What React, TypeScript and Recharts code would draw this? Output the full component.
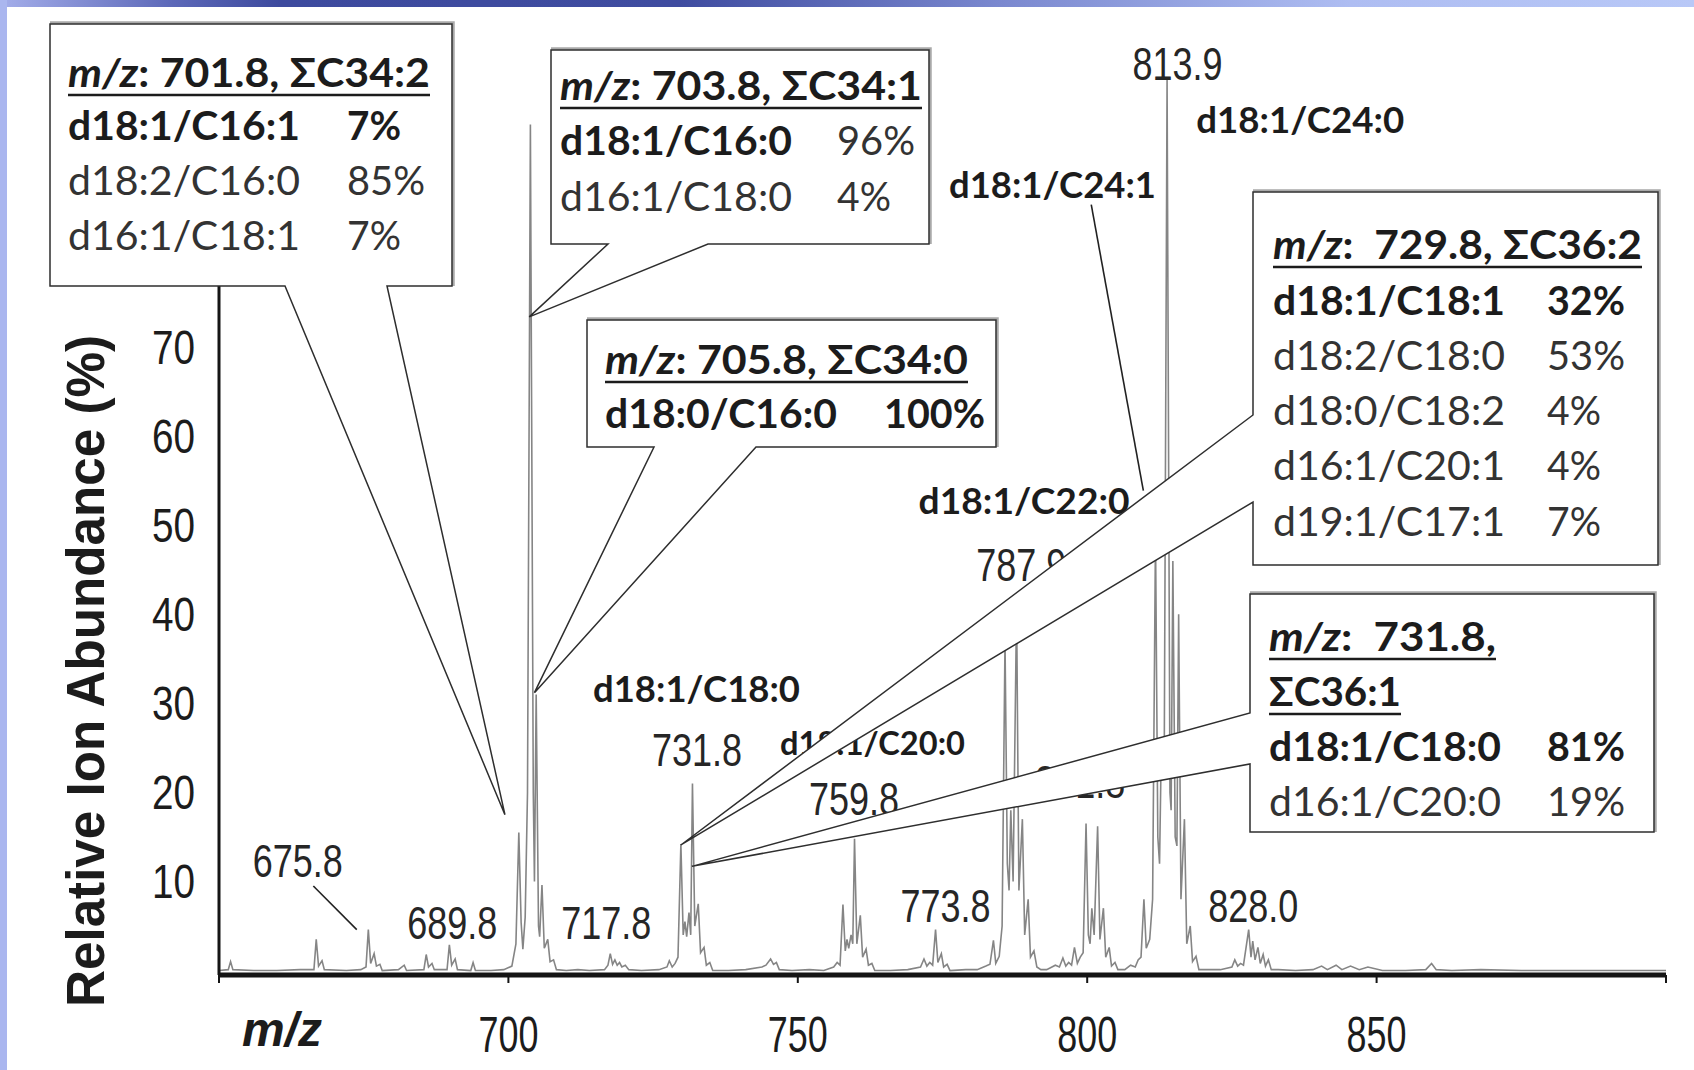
import React from 'react';
import { ComposedChart, Line, XAxis, YAxis, ReferenceDot, ReferenceLine, Label } from 'recharts';

const W = 1694;
const H = 1070;

const cluster665 = [
  [650.0, 0], [651.6, 0.1], [652.0, 1.0], [652.4, 0.1], [656.0, 0], [660.0, 0], [664.0, 0.1],
  [666.4, 0.1], [666.8, 3.5], [667.2, 0.5], [667.8, 1.1], [668.2, 0.1], [672.0, 0], [674.5, 0.1],
  [675.4, 0.4], [675.8, 4.6], [676.2, 0.8], [676.8, 1.9], [677.2, 0.5], [677.8, 0.7], [678.2, 0],
  [681.0, 0.1], [682.0, 0.6], [682.4, 0], [685.4, 0.1], [685.8, 1.8], [686.2, 0.4], [686.8, 0.8],
  [687.2, 0.1], [689.4, 0.1], [689.8, 2.9], [690.2, 0.6], [690.8, 1.3], [691.2, 0.1], [693.5, 0],
  [693.9, 0.9], [694.3, 0], [697.0, 0], [699.2, 0.1],
];
const cluster700 = [
  [700.6, 0.5], [701.3, 3.0], [701.8, 15.5], [702.2, 5.4], [702.5, 2.4], [702.9, 6.0], [703.3, 20],
  [703.8, 95], [704.3, 20], [704.5, 10], [704.8, 31], [705.2, 5.0], [705.4, 3.8], [705.8, 9.6],
  [706.2, 2.5], [706.8, 3.5], [707.2, 1.0], [707.8, 1.2], [708.3, 0.1], [710.0, 0], [712.0, 0.1],
];
const cluster717 = [
  [714.0, 0], [716.6, 0.1], [717.2, 0.6], [717.6, 1.9], [718.0, 0.7], [718.4, 1.2], [718.8, 0.6],
  [719.2, 0.9], [719.6, 0.4], [720.2, 0.6], [720.8, 0.1], [723.0, 0], [726.0, 0.1],
];
const cluster730 = [
  [727.4, 0.4], [727.8, 1.1], [728.3, 0.4], [728.8, 0.8], [729.3, 1.5], [729.8, 14.2], [730.2, 4.0],
  [730.5, 5.5], [730.8, 3.8], [731.2, 6.5], [731.5, 4.0], [731.8, 21], [732.2, 5.0], [732.8, 7.5],
  [733.2, 2.0], [733.8, 2.6], [734.2, 0.6], [734.8, 0.9], [735.3, 0],
];
const cluster745 = [
  [738.0, 0], [741.0, 0.1], [743.8, 0.4], [744.5, 0.6], [745.3, 1.3], [745.8, 0.7], [746.3, 0.9],
  [746.8, 0.1], [749.0, 0], [752.0, 0.1], [754.5, 0],
];
const cluster759 = [
  [756.2, 0.4], [756.8, 0.9], [757.3, 0.6], [757.8, 7.4], [758.2, 2.2], [758.5, 3.5], [758.8, 2.5],
  [759.2, 4.0], [759.5, 3.0], [759.8, 14.8], [760.2, 3.0], [760.8, 6.2], [761.2, 1.5], [761.8, 2.4],
  [762.2, 0.6], [762.8, 0.8], [763.3, 0],
];
const cluster773 = [
  [766.0, 0], [769.0, 0.1], [771.2, 0.4], [771.8, 1.3], [772.3, 0.5], [772.8, 0.9], [773.3, 0.6],
  [773.8, 4.6], [774.2, 0.9], [774.8, 1.9], [775.2, 0.4], [775.8, 0.7], [776.3, 0], [779.0, 0.1],
];
const cluster787 = [
  [781.0, 0.1], [782.5, 0.5], [783.2, 0.7], [783.8, 3.4], [784.2, 0.8], [784.8, 1.6], [785.3, 5.0],
  [785.8, 37], [786.2, 12], [786.5, 9.0], [786.8, 18], [787.2, 10], [787.8, 41], [788.2, 9.0],
  [788.8, 17], [789.2, 4.0], [789.8, 8.0], [790.2, 1.5], [790.8, 2.2], [791.3, 0.4], [792.0, 0.1],
];
const cluster800 = [
  [793.0, 0.1], [794.5, 0.6], [795.2, 0.4], [795.8, 1.4], [796.3, 0.5], [796.8, 0.9], [797.3, 0.6],
  [797.8, 2.6], [798.3, 0.8], [798.8, 1.5], [799.3, 2.0], [799.8, 16.5], [800.2, 4.0], [800.5, 3.0],
  [800.8, 7.0], [801.2, 4.0], [801.8, 16.2], [802.2, 3.5], [802.8, 7.0], [803.2, 1.5], [803.8, 2.6],
  [804.2, 0.5], [804.8, 0.9], [805.3, 0.1], [806.5, 0.1], [807.5, 0.6],
];
const cluster813 = [
  [808.3, 0.4], [808.8, 1.2], [809.3, 1.5], [809.8, 8.0], [810.2, 2.5], [810.8, 3.5], [811.3, 8.0],
  [811.8, 49], [812.2, 15], [812.5, 12], [812.8, 25], [813.3, 22], [813.8, 100], [814.3, 20],
  [814.5, 18], [814.8, 46], [815.2, 15], [815.5, 14], [815.8, 40], [816.2, 8.0], [816.8, 17],
  [817.2, 3.0], [817.8, 5.0], [818.2, 1.0], [818.8, 1.6], [819.3, 0.1], [821.0, 0.1],
];
const cluster828 = [
  [823.0, 0.1], [825.0, 0.4], [825.5, 1.2], [826.0, 0.5], [826.5, 0.8], [827.0, 0.6], [827.9, 4.6],
  [828.3, 1.5], [828.6, 3.3], [829.0, 1.2], [829.5, 2.6], [829.9, 0.8], [830.4, 1.8], [830.8, 0.5],
  [831.3, 1.2], [831.8, 0.1], [833.0, 0.1],
];
const clusterTail = [
  [836.0, 0], [839.0, 0.1], [840.5, 0.5], [841.5, 0.1], [843.0, 0.6], [844.0, 0.1], [845.5, 0.5],
  [847.0, 0.1], [848.5, 0.4], [851.0, 0], [855.0, 0], [858.5, 0.1], [859.5, 0.8], [860.3, 0.1],
  [863.0, 0], [868.0, 0.1], [875.0, 0], [885.0, 0], [900.0, 0],
];

const spectrum = [
  ...cluster665, ...cluster700, ...cluster717, ...cluster730, ...cluster745, ...cluster759,
  ...cluster773, ...cluster787, ...cluster800, ...cluster813, ...cluster828, ...clusterTail,
].map(([mz, ab]) => ({ mz, ab }));

const mzTicks = [650, 700, 750, 800, 850, 900];
const abundanceTicks = [10, 20, 30, 40, 50, 60, 70];

// peak labels
const mzLabels = ['675.8', '689.8', '717.8', '731.8', '759.8', '773.8', '787.9', '801.8', '813.9', '828.0'];
const speciesLabels = ['d18:1/C18:0', 'd18:1/C20:0', 'd18:1/C22:0', 'd18:1/C24:1', 'd18:1/C24:0'];

// callout contents: [species, share, species bold, share bold]
const callout1Title = ': 701.8, ΣC34:2';
const callout1Rows = [['d18:1/C16:1', '7%', true, true], ['d18:2/C16:0', '85%', false, false], ['d16:1/C18:1', '7%', false, false]];
const callout2Title = ': 703.8, ΣC34:1';
const callout2Rows = [['d18:1/C16:0', '96%', true, false], ['d16:1/C18:0', '4%', false, false]];
const callout3Title = ': 705.8, ΣC34:0';
const callout3Rows = [['d18:0/C16:0', '100%', true, true]];
const callout4Title = ':  729.8, ΣC36:2';
const callout4Rows = [['d18:1/C18:1', '32%', true, true], ['d18:2/C18:0', '53%', false, false], ['d18:0/C18:2', '4%', false, false], ['d16:1/C20:1', '4%', false, false], ['d19:1/C17:1', '7%', false, false]];
const callout5Title = ':  731.8,';
const callout5Title2 = 'ΣC36:1';
const callout5Rows = [['d18:1/C18:0', '81%', true, true], ['d16:1/C20:0', '19%', false, false]];

// ---- layout (data units for anchors, pixels for boxes) ----
const mzLabelAt = [[663.6, 10.5], [690.3, 3.5], [716.9, 3.5], [732.6, 23], [759.7, 17.5], [775.5, 5.4], [788.6, 43.7], [798.8, 19.4], [815.6, 100], [828.7, 5.4]];
const speciesLabelAt = [[732.5, 30.2], [762.9, 24.2], [789.1, 51.3], [794.0, 86.8], [836.8, 94.1]];
const speciesLabelW = [207, 185, 211, 207, 208];
const speciesLabelSize = [36, 33, 36, 36, 36];

const NUM_FONT = '"Liberation Sans", Arial, sans-serif';
const BOX_FONT = 'Lato, "Open Sans", sans-serif';
const INK = '#1c1c1c';

const boxes = [
  { x: 50, y: 24, w: 402, h: 262, edge: 'bottom', a: 285, b: 387, tip: [699.4, 17.5], tx: 68, px: 347,
    titles: [{ t: callout1Title, m: true, y: 87, w: 362 }], rowY: [140, 195, 250], rows: callout1Rows },
  { x: 551, y: 50, w: 378, h: 194, edge: 'bottom', a: 608, b: 708, tip: [703.6, 73.4], tx: 560, px: 837,
    titles: [{ t: callout2Title, m: true, y: 100, w: 362 }], rowY: [155, 211], rows: callout2Rows },
  { x: 587, y: 320, w: 409, h: 127, edge: 'bottom', a: 654, b: 756, tip: [704.5, 31.2], tx: 605, px: 884,
    titles: [{ t: callout3Title, m: true, y: 374, w: 363 }], rowY: [428], rows: callout3Rows },
  { x: 1253, y: 192, w: 405, h: 373, edge: 'left', a: 415, b: 502, tip: [729.8, 14.1], tx: 1273, px: 1547,
    titles: [{ t: callout4Title, m: true, y: 259, w: 369 }], rowY: [315, 370, 425, 480, 536], rows: callout4Rows },
  { x: 1250, y: 594, w: 404, h: 238, edge: 'left', a: 713, b: 764, tip: [731.7, 11.7], tx: 1269, px: 1547,
    titles: [{ t: callout5Title, m: true, y: 651, w: 227 }, { t: callout5Title2, m: false, y: 706, w: 132 }],
    rowY: [761, 816], rows: callout5Rows },
];

const pctWidth = (s: string) => (s.length === 2 ? 54 : s.length === 3 ? 78 : 101);

const renderCallout = (box: any) => (p: any) => {
  const { cx, cy } = p;
  const { x, y, w, h } = box;
  const d = box.edge === 'bottom'
    ? `M${x},${y}H${x + w}V${y + h}H${box.b}L${cx},${cy}L${box.a},${y + h}H${x}Z`
    : `M${x},${y}H${x + w}V${y + h}H${x}V${box.b}L${cx},${cy}L${x},${box.a}Z`;
  return (
    <g>
      <polyline points={`${x},${y - 1.5} ${x + w + 1.5},${y - 1.5} ${x + w + 1.5},${y + h}`} fill="none" stroke="#a9a9a9" strokeWidth={2.5} />
      <path d={d} fill="#fff" stroke="#2e2e2e" strokeWidth={1.5} />
      {box.titles.map((tt: any, i: number) => (
        <g key={'t' + i}>
          <text x={box.tx} y={tt.y} fontFamily={BOX_FONT} fontWeight={700} fontSize={41} fill={INK}
            textLength={tt.w} lengthAdjust="spacingAndGlyphs" style={{ whiteSpace: 'pre' }}>
            {tt.m ? <tspan fontStyle="italic">m/z</tspan> : null}
            <tspan>{tt.t}</tspan>
          </text>
          <line x1={box.tx} x2={box.tx + tt.w} y1={tt.y + 8} y2={tt.y + 8} stroke={INK} strokeWidth={2.5} />
        </g>
      ))}
      {box.rows.map((r: any, i: number) => (
        <g key={'r' + i}>
          <text x={box.tx} y={box.rowY[i]} fontFamily={BOX_FONT} fontWeight={r[2] ? 700 : 400} fontSize={41}
            fill={r[2] ? INK : '#333'} textLength={232} lengthAdjust="spacingAndGlyphs">{r[0]}</text>
          <text x={box.px} y={box.rowY[i]} fontFamily={BOX_FONT} fontWeight={r[3] ? 700 : 400} fontSize={41}
            fill={r[3] ? INK : '#333'} textLength={pctWidth(r[1])} lengthAdjust="spacingAndGlyphs">{r[1]}</text>
        </g>
      ))}
    </g>
  );
};

const MzTick = (p: any) => {
  const v = p.payload.value;
  if (v === 650 || v === 900) return <g />;
  return (
    <text x={p.x} y={p.y + 67} textAnchor="middle" fontFamily={NUM_FONT} fontSize={50} fill={INK}
      textLength={60} lengthAdjust="spacingAndGlyphs">{v}</text>
  );
};

const AbTick = (p: any) => (
  <text x={p.x} y={p.y + 17} textAnchor="end" fontFamily={NUM_FONT} fontSize={48} fill={INK}
    textLength={43} lengthAdjust="spacingAndGlyphs">{p.payload.value}</text>
);

export default function App() {
  return (
    <div style={{ position: 'absolute', left: 0, top: 0, width: W, height: H, background: '#fff', overflow: 'hidden' }}>
      <div style={{ position: 'absolute', left: 0, top: 0 }}>
        <ComposedChart width={W} height={H} data={spectrum} margin={{ top: 80, right: 28, bottom: 5, left: 0 }}>
          <XAxis dataKey="mz" type="number" domain={[650, 900]} ticks={mzTicks} interval={0} allowDataOverflow
            height={90} tickSize={8} axisLine={{ stroke: '#151515', strokeWidth: 5 }}
            tickLine={{ stroke: '#151515', strokeWidth: 2 }} tick={<MzTick />}>
            <Label content={() => (
              <text x={282} y={1046} textAnchor="middle" fontFamily={NUM_FONT} fontWeight={700} fontStyle="italic"
                fontSize={48} fill={INK}>m/z</text>
            )} />
          </XAxis>
          <YAxis type="number" domain={[-0.5, 100]} ticks={abundanceTicks} interval={0} allowDataOverflow
            width={219} tickSize={6} tickMargin={18} tickLine={false}
            axisLine={{ stroke: '#151515', strokeWidth: 3 }} tick={<AbTick />}>
            <Label content={() => (
              <text x={104} y={671} transform="rotate(-90 104 671)" textAnchor="middle" fontFamily={NUM_FONT}
                fontWeight={700} fontSize={54} fill={INK} textLength={672} lengthAdjust="spacingAndGlyphs">
                Relative Ion Abundance (%)
              </text>
            )} />
          </YAxis>
          <Line dataKey="ab" type="linear" stroke="#858585" strokeWidth={1.6} dot={false} activeDot={false}
            isAnimationActive={false} />
          <ReferenceLine segment={[{ x: 666.3, y: 9.5 }, { x: 673.8, y: 4.6 }]} stroke="#222" strokeWidth={1.6} ifOverflow="visible" />
          <ReferenceLine segment={[{ x: 800.7, y: 86 }, { x: 809.7, y: 53.9 }]} stroke="#222" strokeWidth={1.6} ifOverflow="visible" />
          {mzLabels.map((t, i) => (
            <ReferenceDot key={'m' + t} x={mzLabelAt[i][0]} y={mzLabelAt[i][1]} r={0} ifOverflow="visible"
              shape={(p: any) => (
                <text x={p.cx} y={p.cy} textAnchor="middle" fontFamily={NUM_FONT} fontSize={46} fill="#262626"
                  textLength={90} lengthAdjust="spacingAndGlyphs">{t}</text>
              )} />
          ))}
          {speciesLabels.map((t, i) => (
            <ReferenceDot key={'s' + i} x={speciesLabelAt[i][0]} y={speciesLabelAt[i][1]} r={0} ifOverflow="visible"
              shape={(p: any) => (
                <text x={p.cx} y={p.cy} textAnchor="middle" fontFamily={BOX_FONT} fontWeight={700}
                  fontSize={speciesLabelSize[i]} fill={INK} textLength={speciesLabelW[i]}
                  lengthAdjust="spacingAndGlyphs">{t}</text>
              )} />
          ))}
        </ComposedChart>
      </div>
      <div style={{ position: 'absolute', left: 0, top: 0 }}>
        <ComposedChart width={W} height={H} data={spectrum} margin={{ top: 80, right: 28, bottom: 95, left: 219 }}>
          <XAxis dataKey="mz" type="number" domain={[650, 900]} allowDataOverflow hide />
          <YAxis type="number" domain={[-0.5, 100]} allowDataOverflow hide />
          {boxes.map((b, i) => (
            <ReferenceDot key={'c' + i} x={b.tip[0]} y={b.tip[1]} r={0} ifOverflow="visible" shape={renderCallout(b)} />
          ))}
        </ComposedChart>
      </div>
      <div style={{ position: 'absolute', left: 0, top: 0, width: W, height: 7,
        background: 'linear-gradient(to right, #a4aeea 0px, #5d69b9 170px, #3d4a9e 280px, #3f4ca0 680px, #7a88cf 1000px, #aebdf2 1350px, #b8c8f7 1694px)' }} />
      <div style={{ position: 'absolute', left: 0, top: 0, width: 7, height: H, background: '#aab6ef' }} />
    </div>
  );
}
